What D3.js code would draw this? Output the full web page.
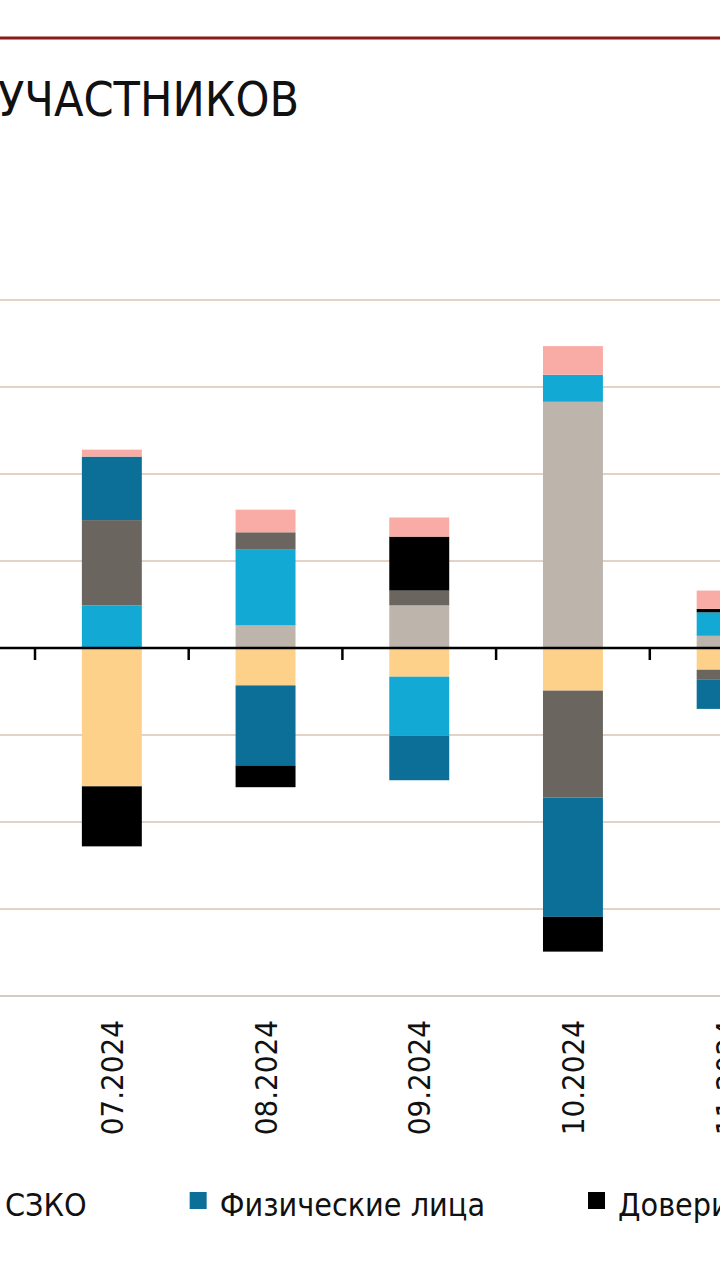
<!DOCTYPE html>
<html>
<head>
<meta charset="utf-8">
<script src="https://cdn.jsdelivr.net/npm/d3@7"></script>
<style>
  html, body { margin: 0; padding: 0; background: #ffffff; }
  svg { display: block; }
  text { font-family: 'DejaVu Sans Condensed', 'DejaVu Sans', sans-serif; font-stretch: condensed; fill: #111; }
</style>
</head>
<body>
<svg id="chart" width="720" height="1280"></svg>
<script>
// ---- data ----
const titleText = "УЧАСТНИКОВ";
const categories = ["07.2024", "08.2024", "09.2024", "10.2024", "11.2024"];
const seriesNames = ["Нерезиденты", "НФО", "Банки", "СЗКО", "Физические лица", "Доверительное управление", "Прочие"];
const seriesColors = ["#fdd189", "#bdb5ab", "#12a9d5", "#6b655f", "#0c6f97", "#000000", "#f8aca5"];
// values per series, one entry per category
const sNonres   = [-1.59, -0.43, -0.33, -0.49, -0.25];
const sNFO      = [ 0.00,  0.26,  0.49,  2.83,  0.14];
const sBanks    = [ 0.49,  0.87, -0.68,  0.31,  0.27];
const sSZKO     = [ 0.98,  0.20,  0.17, -1.23, -0.11];
const sPersons  = [ 0.73, -0.92, -0.51, -1.37, -0.34];
const sTrust    = [-0.69, -0.25,  0.62, -0.40,  0.04];
const sOther    = [ 0.08,  0.26,  0.22,  0.33,  0.21];
const yTicks = [-4, -3, -2, -1, 0, 1, 2, 3, 4];
const legendShown = ["СЗКО", "Физические лица", "Доверительное управление"];

const seriesValues = [sNonres, sNFO, sBanks, sSZKO, sPersons, sTrust, sOther];
const rows = categories.map((c, i) => {
  const r = { cat: c };
  seriesNames.forEach((s, k) => r[s] = seriesValues[k][i]);
  return r;
});

// ---- layout ----
const svg = d3.select("#chart");
svg.append("rect").attr("width", 720).attr("height", 1280).attr("fill", "#ffffff");

// top rule
svg.append("line").attr("x1", 0).attr("x2", 720).attr("y1", 38).attr("y2", 38)
  .attr("stroke", "#8a1b1b").attr("stroke-width", 3);

svg.append("text").attr("x", -2).attr("y", 116).attr("font-size", 48)
  .attr("fill", "#111").text(titleText);

const y = d3.scaleLinear().domain([-4, 4]).range([996, 300]);
const xOuter = d3.scaleBand().domain(categories).range([35, 35 + 153.7 * categories.length]).padding(0);
const x = d3.scaleBand().domain(categories).range(xOuter.range()).paddingInner(0.61).paddingOuter(0.305);

// grid
svg.append("g").selectAll("line").data(yTicks.filter(t => t !== 0)).join("line")
  .attr("x1", 0).attr("x2", 720)
  .attr("y1", d => y(d)).attr("y2", d => y(d))
  .attr("stroke", d => d === -4 ? "#d4ccc4" : "#e3d2c6").attr("stroke-width", 2.2);

// bars
const stack = d3.stack().keys(seriesNames).offset(d3.stackOffsetDiverging);
const layers = stack(rows);
const color = d3.scaleOrdinal().domain(seriesNames).range(seriesColors);

svg.append("g").selectAll("g").data(layers).join("g")
  .attr("fill", d => color(d.key))
  .selectAll("rect").data(d => d).join("rect")
  .attr("x", d => x(d.data.cat))
  .attr("width", x.bandwidth())
  .attr("y", d => y(Math.max(d[0], d[1])))
  .attr("height", d => Math.abs(y(d[0]) - y(d[1])));

// zero axis
svg.append("line").attr("x1", 0).attr("x2", 720).attr("y1", y(0)).attr("y2", y(0))
  .attr("stroke", "#000").attr("stroke-width", 2.5);
const tickPos = categories.map(c => xOuter(c));
svg.append("g").selectAll("line").data(tickPos).join("line")
  .attr("x1", d => d).attr("x2", d => d)
  .attr("y1", y(0)).attr("y2", y(0) + 12)
  .attr("stroke", "#000").attr("stroke-width", 2.5);

// category labels (rotated)
svg.append("g").selectAll("text").data(categories).join("text")
  .attr("transform", d => `translate(${x(d) + x.bandwidth() / 2 + 11},1020) rotate(-90)`)
  .attr("text-anchor", "end")
  .attr("font-size", 31)
  .attr("font-stretch", "normal")
  .style("font-family", "'DejaVu Sans', sans-serif")
  .text(d => d);

// legend
const lg = svg.append("g").attr("transform", "translate(0,1205)");
let cursor = -25;
legendShown.forEach(name => {
  lg.append("rect").attr("x", cursor).attr("y", -13).attr("width", 17).attr("height", 17)
    .attr("fill", color(name));
  const t = lg.append("text").attr("x", cursor + 30).attr("y", 11).attr("font-size", 32).text(name);
  cursor += 30 + t.node().getComputedTextLength() + 103;
});
</script>
</body>
</html>
